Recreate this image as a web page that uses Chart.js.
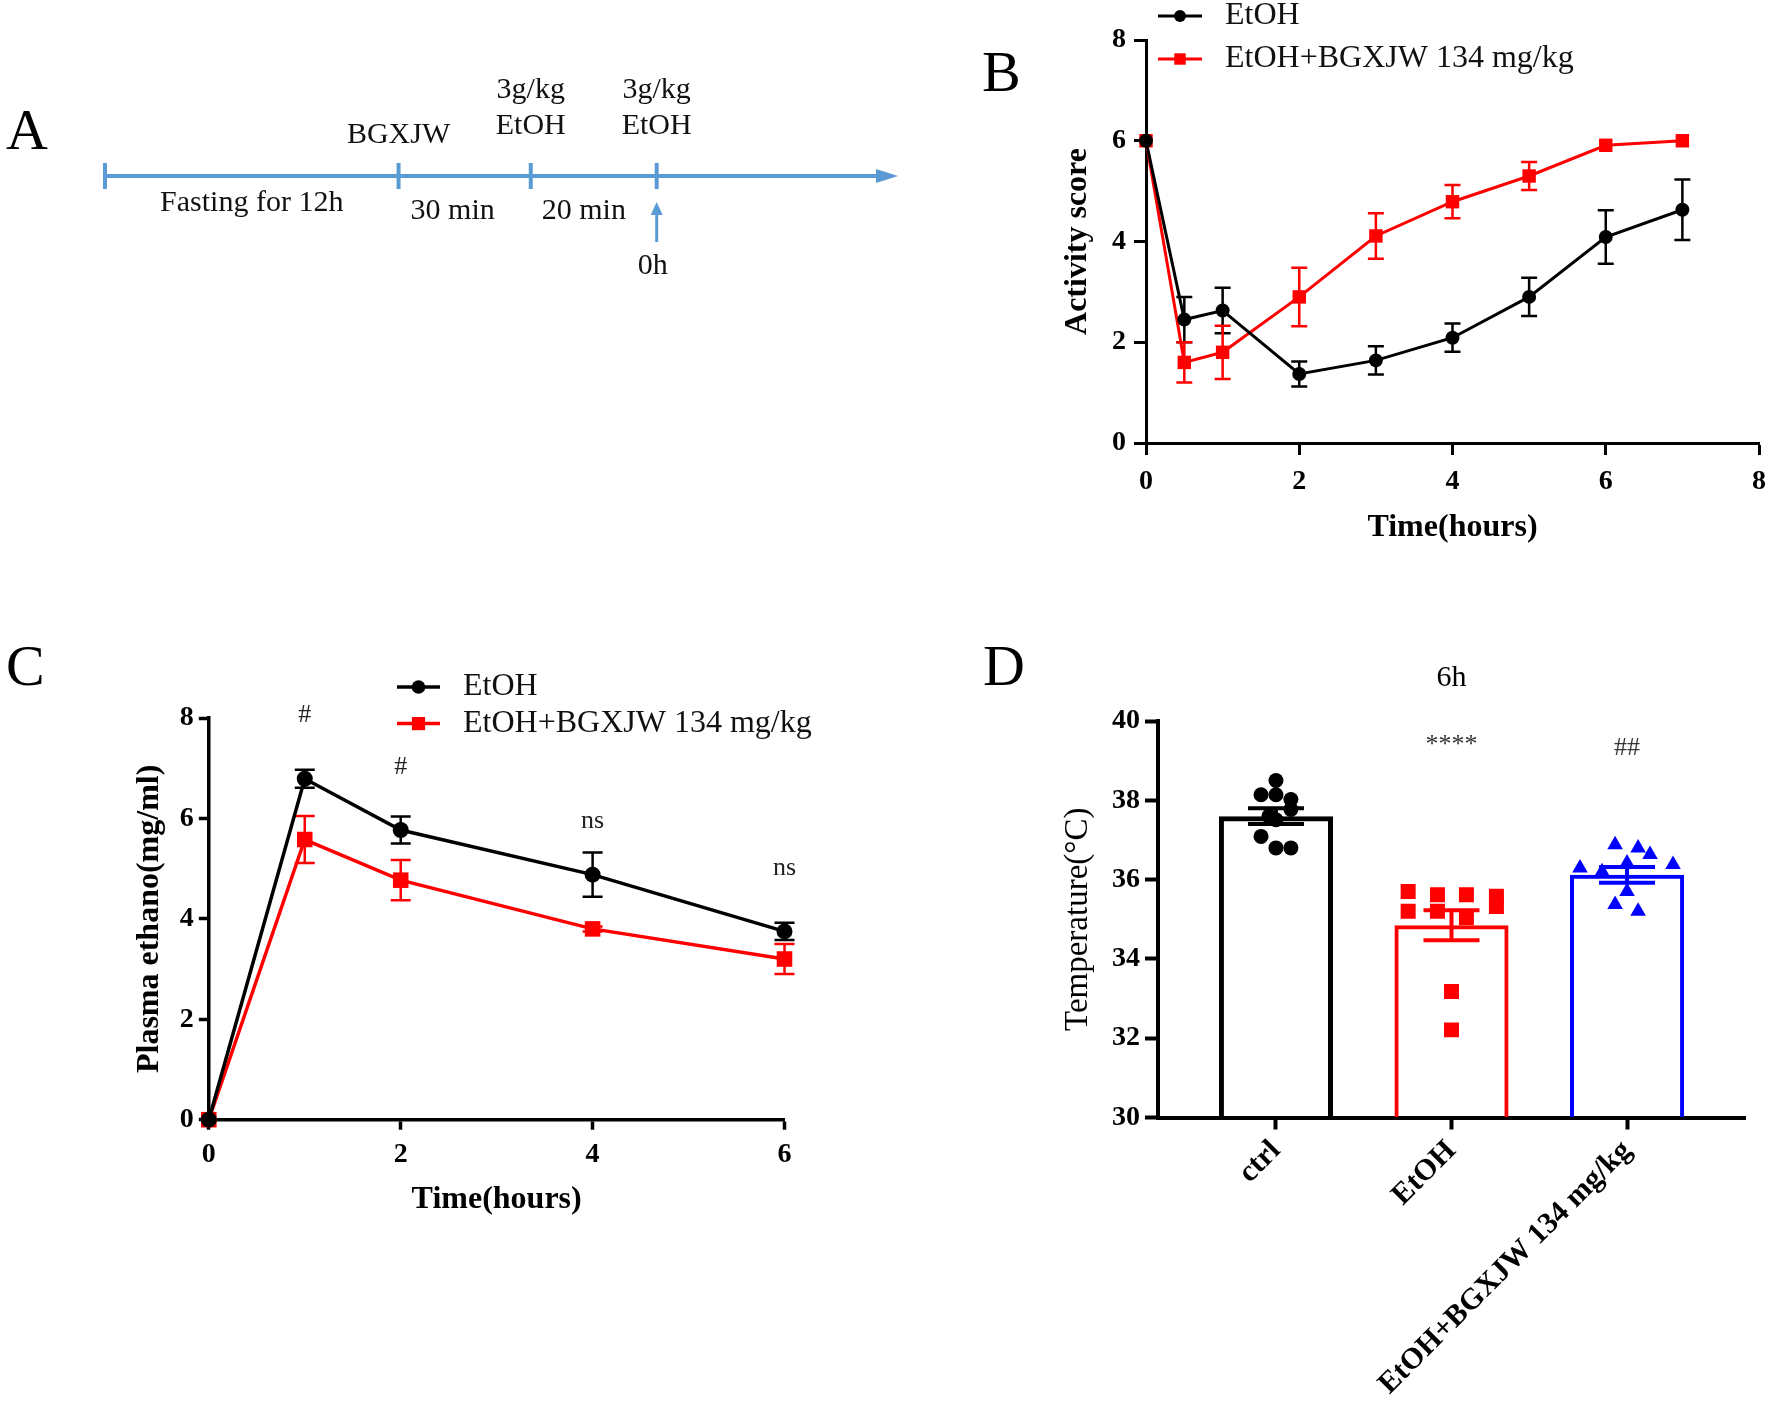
<!DOCTYPE html>
<html>
<head>
<meta charset="utf-8">
<script src="https://cdn.jsdelivr.net/npm/chart.js@4.4.1/dist/chart.umd.min.js"></script>
<style>
  body { margin: 0; background: #fff; }
  #page { position: relative; width: 1770px; height: 1404px; overflow: hidden; background: #fff; }
  canvas { position: absolute; }
  .tag { position: absolute; font: 58px "Liberation Serif", serif; line-height: 1; color: #000; }
</style>
</head>
<body>
<div id="page">
  <div class="tag" style="left:6px;top:101px">A</div>
  <div class="tag" style="left:982px;top:43px">B</div>
  <div class="tag" style="left:6px;top:637px">C</div>
  <div class="tag" style="left:983px;top:637px">D</div>
  <canvas id="chartA" width="960" height="300" style="left:0;top:0"></canvas>
  <canvas id="chartB" width="776" height="560" style="left:1000px;top:0"></canvas>
  <canvas id="chartC" width="760" height="620" style="left:100px;top:640px"></canvas>
  <canvas id="chartD" width="870" height="764" style="left:900px;top:640px"></canvas>
</div>
<script>
// --- A: protocol timeline (schematic units along the arrow) ---
const timelineAt = [0, 37.3, 54.1, 70.1];
const timelineEnd = 100;
const timelineTop = [[], ['BGXJW'], ['3g/kg', 'EtOH'], ['3g/kg', 'EtOH']];
const timelineGaps = ['Fasting for 12h', '30 min', '20 min'];
const timelineZero = '0h';

// --- B: activity score ---
const seriesNames = ['EtOH', 'EtOH+BGXJW 134 mg/kg'];
const bHours = [0, 0.5, 1, 2, 3, 4, 5, 6, 7];
const bEtoh = [6, 2.45, 2.63, 1.37, 1.64, 2.09, 2.9, 4.09, 4.63];
const bEtohSem = [0, 0.45, 0.45, 0.25, 0.28, 0.28, 0.38, 0.53, 0.6];
const bBgxjw = [6, 1.6, 1.8, 2.9, 4.11, 4.79, 5.3, 5.91, 6.0];
const bBgxjwSem = [0, 0.4, 0.53, 0.58, 0.45, 0.33, 0.28, 0, 0];

// --- C: plasma ethanol ---
const cHours = [0, 1, 2, 4, 6];
const cEtoh = [0, 6.79, 5.77, 4.88, 3.75];
const cEtohSem = [0, 0.18, 0.27, 0.44, 0.17];
const cBgxjw = [0, 5.58, 4.77, 3.8, 3.2];
const cBgxjwSem = [0, 0.47, 0.4, 0.05, 0.3];
const cMarks = ['#', '#', 'ns', 'ns'];
const cMarkHours = [1, 2, 4, 6];
const cMarkLevel = [8.05, 7.03, 5.95, 5.0];

// --- D: temperature at 6h ---
const dGroups = ['ctrl', 'EtOH', 'EtOH+BGXJW 134 mg/kg'];
const dMeans = [37.6, 34.85, 36.12];
const dSem = [0.2, 0.38, 0.2];
const dCtrl = [38.5, 38.14, 38.14, 38.02, 37.77, 37.6, 37.51, 37.09, 36.8, 36.8];
const dCtrlJit = [0, -0.085, 0, 0.085, 0.085, -0.04, 0, -0.085, 0, 0.085];
const dEtoh = [35.7, 35.2, 35.62, 35.2, 35.62, 35.04, 35.58, 35.32, 33.18, 32.21];
const dEtohJit = [-0.247, -0.247, -0.08, -0.08, 0.085, 0.085, 0.256, 0.256, 0, 0];
const dBgxjw = [36.88, 36.8, 36.63, 36.29, 36.38, 36.42, 35.7, 35.37, 35.2, 36.2];
const dBgxjwJit = [-0.068, 0.063, 0.131, -0.268, 0.262, 0, 0, -0.068, 0.063, -0.142];
const dMarks = ['', '****', '##'];
const dMarkLevel = [null, 39.38, 39.32];

const SERIF = '"Liberation Serif", "Times New Roman", serif';
const BLUE = '#5b9bd5';
const RED = '#ff0000';
Chart.defaults.font.family = SERIF;
Chart.defaults.color = '#000';
Chart.defaults.animation = false;

const bold = size => ({ family: SERIF, size, weight: 'bold' });
const xy = (xs, ys) => xs.map((x, i) => ({ x, y: ys[i] }));

function drawMarker(ctx, style, r, x, y) {
  ctx.beginPath();
  if (style === 'rect') {
    const s = r * Math.SQRT1_2;
    ctx.rect(x - s, y - s, 2 * s, 2 * s);
  } else {
    ctx.arc(x, y, r, 0, Math.PI * 2);
  }
  ctx.fill();
}

// error bars (SEM) read from dataset.errors
function drawErrors(chart, opts) {
  const ctx = chart.ctx;
  ctx.save();
  ctx.lineWidth = opts.width;
  chart.data.datasets.forEach((ds, i) => {
    if (!ds.errors) return;
    const meta = chart.getDatasetMeta(i);
    const ys = chart.scales[meta.yAxisID];
    meta.data.forEach((el, j) => {
      const e = ds.errors[j];
      if (!e) return;
      const v = ds.data[j].y;
      const top = ys.getPixelForValue(v + e), bot = ys.getPixelForValue(v - e);
      ctx.strokeStyle = Array.isArray(ds.borderColor) ? ds.borderColor[j] : ds.borderColor;
      ctx.beginPath();
      ctx.moveTo(el.x, top); ctx.lineTo(el.x, bot);
      ctx.moveTo(el.x - opts.cap, top); ctx.lineTo(el.x + opts.cap, top);
      ctx.moveTo(el.x - opts.cap, bot); ctx.lineTo(el.x + opts.cap, bot);
      ctx.stroke();
    });
  });
  ctx.restore();
}
const errorBars = {
  id: 'errorBars',
  beforeDatasetsDraw(chart, args, opts) { if (!opts.onTop) drawErrors(chart, opts); },
  afterDatasetsDraw(chart, args, opts) { if (opts.onTop) drawErrors(chart, opts); }
};

const sketchLegend = {
  id: 'sketchLegend',
  afterDraw(chart, args, opts) {
    const ctx = chart.ctx;
    ctx.save();
    ctx.font = opts.fontCss;
    ctx.textBaseline = 'middle';
    chart.data.datasets.forEach((ds, i) => {
      const y = opts.y + i * opts.rowGap;
      ctx.strokeStyle = ds.borderColor;
      ctx.lineWidth = ds.borderWidth;
      ctx.beginPath();
      ctx.moveTo(opts.x, y); ctx.lineTo(opts.x + opts.sampleLen, y);
      ctx.stroke();
      ctx.fillStyle = ds.backgroundColor;
      drawMarker(ctx, ds.pointStyle, ds.pointRadius * 0.85, opts.x + opts.sampleLen / 2, y);
      ctx.fillStyle = '#111';
      ctx.fillText(ds.label, opts.x + opts.sampleLen + opts.textGap, y);
    });
    ctx.restore();
  }
};

const notes = {
  id: 'notes',
  afterDatasetsDraw(chart, args, opts) {
    const ctx = chart.ctx, xs = chart.scales.x, ys = chart.scales.y;
    ctx.save();
    ctx.font = opts.fontCss;
    ctx.fillStyle = opts.ink;
    ctx.textAlign = 'center';
    ctx.textBaseline = 'middle';
    opts.text.forEach((t, i) => {
      if (!t) return;
      ctx.fillText(t, xs.getPixelForValue(opts.at[i]), ys.getPixelForValue(opts.level[i]));
    });
    ctx.restore();
  }
};

const timeline = {
  id: 'timeline',
  afterDatasetsDraw(chart) {
    const ctx = chart.ctx, xs = chart.scales.x;
    const y0 = chart.scales.y.getPixelForValue(0);
    const px = timelineAt.map(v => xs.getPixelForValue(v));
    ctx.save();
    ctx.strokeStyle = BLUE;
    ctx.fillStyle = BLUE;
    ctx.lineWidth = 4;
    px.forEach(x => {
      ctx.beginPath(); ctx.moveTo(x, y0 - 13); ctx.lineTo(x, y0 + 13); ctx.stroke();
    });
    const tip = xs.getPixelForValue(timelineEnd) + 6;
    ctx.beginPath();
    ctx.moveTo(tip, y0); ctx.lineTo(tip - 22, y0 - 7); ctx.lineTo(tip - 22, y0 + 7);
    ctx.closePath(); ctx.fill();
    // arrow pointing at 0h
    const zx = px[3];
    ctx.lineWidth = 3;
    ctx.beginPath(); ctx.moveTo(zx, y0 + 66); ctx.lineTo(zx, y0 + 36); ctx.stroke();
    ctx.beginPath();
    ctx.moveTo(zx, y0 + 26); ctx.lineTo(zx - 6, y0 + 39); ctx.lineTo(zx + 6, y0 + 39);
    ctx.closePath(); ctx.fill();

    ctx.fillStyle = '#111';
    ctx.font = '30px ' + SERIF;
    ctx.textBaseline = 'middle';
    ctx.textAlign = 'center';
    timelineTop.forEach((lines, i) => {
      lines.forEach((t, k) => {
        const y = lines.length === 1 ? y0 - 41 : y0 - 86 + k * 36.5;
        ctx.fillText(t, px[i], y);
      });
    });
    ctx.fillText(timelineGaps[0], (px[0] + px[1]) / 2, y0 + 27);
    ctx.textAlign = 'left';
    ctx.fillText(timelineGaps[1], px[1] + 12, y0 + 35);
    ctx.fillText(timelineGaps[2], px[2] + 11, y0 + 35);
    ctx.textAlign = 'center';
    ctx.fillText(timelineZero, zx - 4, y0 + 90);
    ctx.restore();
  }
};

// Panel A
new Chart(document.getElementById('chartA'), {
  type: 'line',
  data: { datasets: [{
    data: [{ x: timelineAt[0], y: 0 }, { x: timelineEnd, y: 0 }],
    borderColor: BLUE, borderWidth: 4, pointRadius: 0, clip: false
  }] },
  options: {
    responsive: false,
    layout: { padding: { left: 105, right: 68, top: 76, bottom: 24 } },
    plugins: { legend: { display: false }, tooltip: { enabled: false } },
    scales: {
      x: { type: 'linear', display: false, min: 0, max: timelineEnd },
      y: { display: false, min: -1, max: 1 }
    }
  },
  plugins: [timeline]
});

function axisStyle(tickLen, width) {
  return {
    grid: { drawOnChartArea: false, offset: false, tickLength: tickLen, tickWidth: width,
            color: '#000', tickColor: '#000' },
    border: { width: width, color: '#000' }
  };
}

// Panel B
new Chart(document.getElementById('chartB'), {
  type: 'line',
  data: { datasets: [
    { label: seriesNames[0], data: xy(bHours, bEtoh), errors: bEtohSem,
      borderColor: '#000', backgroundColor: '#000', borderWidth: 3,
      pointStyle: 'circle', pointRadius: 7, pointBorderWidth: 0, tension: 0, clip: false },
    { label: seriesNames[1], data: xy(bHours, bBgxjw), errors: bBgxjwSem,
      borderColor: RED, backgroundColor: RED, borderWidth: 3,
      pointStyle: 'rect', pointRadius: 9.5, pointBorderWidth: 0, tension: 0, clip: false }
  ] },
  options: {
    responsive: false,
    layout: { padding: { left: 40, top: 40, right: 0, bottom: 12.8 } },
    plugins: {
      legend: { display: false }, tooltip: { enabled: false },
      errorBars: { cap: 8, width: 2.5, onTop: false },
      sketchLegend: { x: 158, y: 16, rowGap: 43, sampleLen: 44, textGap: 23, fontCss: '32px ' + SERIF }
    },
    scales: {
      x: { type: 'linear', min: 0, max: 8, ...axisStyle(12, 3),
        ticks: { stepSize: 2, font: bold(28), padding: 10 },
        title: { display: true, text: 'Time(hours)', font: bold(32), padding: 0 },
        afterFit: s => { s.height = 104.2; } },
      y: { min: 0, max: 8, ...axisStyle(12, 3),
        ticks: { stepSize: 2, font: bold(28), padding: 8 },
        title: { display: true, text: 'Activity score', font: bold(32), padding: { top: 18.8, bottom: 0 } },
        afterFit: s => { s.width = 106; } }
    }
  },
  plugins: [errorBars, sketchLegend]
});

// Panel C
new Chart(document.getElementById('chartC'), {
  type: 'line',
  data: { datasets: [
    { label: seriesNames[0], data: xy(cHours, cEtoh), errors: cEtohSem,
      borderColor: '#000', backgroundColor: '#000', borderWidth: 3.5,
      pointStyle: 'circle', pointRadius: 8, pointBorderWidth: 0, tension: 0, clip: false },
    { label: seriesNames[1], data: xy(cHours, cBgxjw), errors: cBgxjwSem,
      borderColor: RED, backgroundColor: RED, borderWidth: 3.5,
      pointStyle: 'rect', pointRadius: 11, pointBorderWidth: 0, tension: 0, clip: false }
  ] },
  options: {
    responsive: false,
    layout: { padding: { left: 20, top: 78, right: 75.5, bottom: 40.8 } },
    plugins: {
      legend: { display: false }, tooltip: { enabled: false },
      errorBars: { cap: 10, width: 2.5, onTop: false },
      sketchLegend: { x: 297, y: 47, rowGap: 36.6, sampleLen: 43, textGap: 23, fontCss: '32px ' + SERIF },
      notes: { text: cMarks, at: cMarkHours, level: cMarkLevel, fontCss: '26px ' + SERIF, ink: '#222' }
    },
    scales: {
      x: { type: 'linear', min: 0, max: 6, ...axisStyle(10, 3.5),
        ticks: { stepSize: 2, font: bold(28), padding: 8 },
        title: { display: true, text: 'Time(hours)', font: bold(32), padding: 0 },
        afterFit: s => { s.height = 99.5; } },
      y: { min: 0, max: 8, ...axisStyle(10, 3.5),
        ticks: { stepSize: 2, font: bold(28), padding: 5 },
        title: { display: true, text: 'Plasma ethano(mg/ml)', font: bold(32), padding: { top: 10.8, bottom: 0 } },
        afterFit: s => { s.width = 88.8; } }
    }
  },
  plugins: [errorBars, sketchLegend, notes]
});

// Panel D
const dColors = ['#000', RED, '#0000ff'];
const jitter = (vals, jit, g) => vals.map((v, k) => ({ x: g + 1 + jit[k], y: v }));
new Chart(document.getElementById('chartD'), {
  type: 'bar',
  data: { datasets: [
    { type: 'bar', data: xy(dGroups.map((g, i) => i + 1), dMeans), errors: dSem, base: 30,
      borderColor: dColors, backgroundColor: 'rgba(255,255,255,0)', borderWidth: [5, 4, 4],
      borderSkipped: 'start', categoryPercentage: 1, barPercentage: 0.65, order: 2 },
    { type: 'scatter', data: jitter(dCtrl, dCtrlJit, 0), backgroundColor: dColors[0], borderColor: dColors[0],
      pointStyle: 'circle', pointRadius: 7.5, pointBorderWidth: 0, order: 1 },
    { type: 'scatter', data: jitter(dEtoh, dEtohJit, 1), backgroundColor: dColors[1], borderColor: dColors[1],
      pointStyle: 'rect', pointRadius: 10.6, pointBorderWidth: 0, order: 1 },
    { type: 'scatter', data: jitter(dBgxjw, dBgxjwJit, 2), backgroundColor: dColors[2], borderColor: dColors[2],
      pointStyle: 'triangle', pointRadius: 9, pointBorderWidth: 0, order: 1 }
  ] },
  options: {
    responsive: false,
    layout: { padding: { left: 120, top: 0, right: 25, bottom: 0 } },
    plugins: {
      legend: { display: false }, tooltip: { enabled: false },
      title: { display: true, text: '6h', font: { size: 30, weight: 'normal' }, color: '#000',
               fullSize: false, padding: { top: 20.5, bottom: 24.5 } },
      errorBars: { cap: 28, width: 4, onTop: true },
      notes: { text: dMarks, at: [1, 2, 3], level: dMarkLevel, fontCss: '26px ' + SERIF, ink: '#333' }
    },
    scales: {
      x: { type: 'linear', min: 0.328, max: 3.672, offset: false, ...axisStyle(12, 4),
        ticks: { font: bold(30), padding: 4, minRotation: 45, maxRotation: 45, autoSkip: false,
                 callback: v => dGroups[v - 1] || '' },
        afterBuildTicks: s => { s.ticks = dGroups.map((g, i) => ({ value: i + 1 })); },
        afterFit: s => { s.height = 286.5; } },
      y: { min: 30, max: 40, ...axisStyle(13, 4),
        ticks: { stepSize: 2, font: bold(28), padding: 5 },
        title: { display: true, text: 'Temperature(°C)', font: { size: 33, weight: 'normal' },
                 padding: { top: 38.2, bottom: 0 } },
        afterFit: s => { s.width = 138; } }
    }
  },
  plugins: [errorBars, notes]
});
</script>
</body>
</html>
